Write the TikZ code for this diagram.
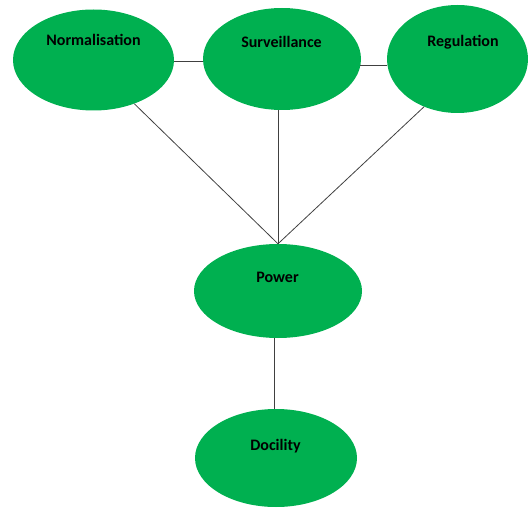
\documentclass[tikz,border=0pt]{standalone}
\usepackage{fontspec}
\setmainfont{Carlito}
\usetikzlibrary{shapes.geometric}
\definecolor{leaf}{HTML}{00B050}
\definecolor{wire}{HTML}{404040}
\tikzset{
  bubble/.style={ellipse, fill=leaf, draw=none, inner sep=0pt},
  caption/.style={anchor=base, inner sep=0pt, font=\bfseries\fontsize{16}{16}\selectfont},
  link/.style={draw=wire, line width=0.8pt}
}
\begin{document}
\begin{tikzpicture}[x=1pt, y=-1pt]
\useasboundingbox (0,0) rectangle (528,508);
% concept bubbles
\node[bubble, minimum width=161pt, minimum height=101pt] (norm) at (93.5,60) {};
\node[bubble, minimum width=158pt, minimum height=102pt] (surv) at (282,59) {};
\node[bubble, minimum width=141pt, minimum height=108pt] (reg)  at (457.5,59) {};
\node[bubble, minimum width=168pt, minimum height=94pt]  (pow)  at (278,291) {};
\node[bubble, minimum width=162pt, minimum height=98pt]  (doc)  at (276,458) {};
% captions
\node[caption] (normT) at (93.5,46) {Normalisation};
\node[caption] (survT) at (281.5,48) {Surveillance};
\node[caption] (regT)  at (463,46.5) {Regulation};
\node[caption] (powT)  at (277.5,283) {Power};
\node[caption] (docT)  at (275.5,450) {Docility};
% connectors
\draw[link] ([yshift=-1pt]norm.east) -- ([yshift=-1pt]norm.east -| surv.west);
\draw[link] (reg.185.8) -- ([xshift=-1pt]reg.185.8 -| surv.east);
\draw[link] (norm.-47) -- (pow.north);
\draw[link] (pow.north) -- (pow.north |- surv.south);
\draw[link] (reg.-125) -- (pow.north);
\draw[link] ([xshift=-4pt]pow.south) -- ([xshift=-2pt]doc.north);
\end{tikzpicture}
\end{document}
